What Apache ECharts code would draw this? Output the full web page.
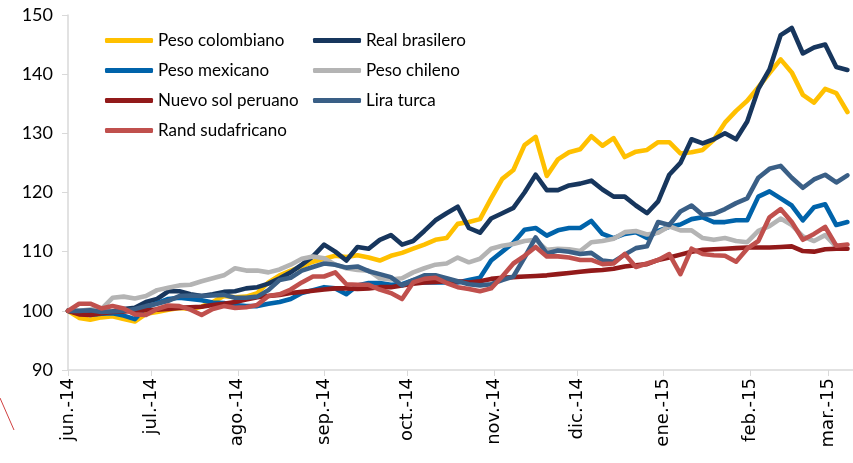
<html>

<head>
    <meta charset="utf-8" />
    <style>
        html, body { margin: 0; padding: 0; background: #fff; }
    </style>
</head>

<body>
    <div id="chart" style="width:853px;height:463px"></div>
    <script src="https://cdn.jsdelivr.net/npm/echarts@6/dist/echarts.min.js"></script>
    <script>
        // fechas (cada 4 dias desde 1 jun 2014)
        var fechas = [
            '2014-06-01', '2014-06-05', '2014-06-09', '2014-06-13', '2014-06-17', '2014-06-21', '2014-06-25', '2014-06-29',
            '2014-07-03', '2014-07-07', '2014-07-11', '2014-07-15', '2014-07-19', '2014-07-23', '2014-07-27', '2014-07-31',
            '2014-08-04', '2014-08-08', '2014-08-12', '2014-08-16', '2014-08-20', '2014-08-24', '2014-08-28',
            '2014-09-01', '2014-09-05', '2014-09-09', '2014-09-13', '2014-09-17', '2014-09-21', '2014-09-25', '2014-09-29',
            '2014-10-03', '2014-10-07', '2014-10-11', '2014-10-15', '2014-10-19', '2014-10-23', '2014-10-27', '2014-10-31',
            '2014-11-04', '2014-11-08', '2014-11-12', '2014-11-16', '2014-11-20', '2014-11-24', '2014-11-28',
            '2014-12-02', '2014-12-06', '2014-12-10', '2014-12-14', '2014-12-18', '2014-12-22', '2014-12-26', '2014-12-30',
            '2015-01-03', '2015-01-07', '2015-01-11', '2015-01-15', '2015-01-19', '2015-01-23', '2015-01-27', '2015-01-31',
            '2015-02-04', '2015-02-08', '2015-02-12', '2015-02-16', '2015-02-20', '2015-02-24', '2015-02-28',
            '2015-03-04', '2015-03-08'
        ];
        var mesesLabels = ['ene.', 'feb.', 'mar.', 'abr.', 'may.', 'jun.', 'jul.', 'ago.', 'sep.', 'oct.', 'nov.', 'dic.'];
        var yTicks = [90, 100, 110, 120, 130, 140, 150];

        var pesoColombiano = [
            100, 98.8, 98.5, 98.9, 99.1, 98.6, 98.2, 99.5,
            99.8, 100.2, 100.5, 100.3, 100.7, 101.5, 102.5, 102.3,
            102.4, 103, 104.8, 106, 106.8, 107.5, 108.3,
            108.8, 109.3, 109.1, 109.4, 109, 108.5, 109.3, 109.8,
            110.5, 111.2, 112, 112.3, 114.7, 115, 115.5, 119,
            122.3, 123.8, 128, 129.4, 122.8, 125.6, 126.8,
            127.3, 129.5, 127.9, 129.2, 126, 126.9, 127.2, 128.5,
            128.5, 126.6, 126.8, 127.2, 128.9, 131.8, 133.8, 135.5,
            137.8, 140.2, 142.5, 140.3, 136.5, 135.2, 137.5,
            136.8, 133.6
        ];
        var realBrasilero = [
            100, 99.7, 99.5, 99.8, 99.9, 100.3, 100.5, 101.5,
            102, 103.3, 103.3, 102.8, 102.5, 102.8, 103.2, 103.3,
            103.8, 104, 104.6, 105.5, 106.5, 107.8, 109.2,
            111.2, 110, 108.5, 110.8, 110.5, 112, 112.8, 111.2,
            111.8, 113.5, 115.3, 116.5, 117.6, 114, 113.2, 115.6,
            116.5, 117.4, 120, 123, 120.4, 120.4, 121.2,
            121.5, 122, 120.5, 119.3, 119.3, 117.8, 116.5, 118.5,
            123, 125, 129, 128.3, 129, 130, 129, 132,
            137.5, 140.8, 146.6, 147.8, 143.5, 144.5, 145,
            141.2, 140.7
        ];
        var pesoMexicano = [
            100, 99.6, 99.3, 99.5, 99.6, 99.2, 98.6, 100.6,
            101.3, 102, 102.2, 102, 101.8, 101.4, 101.3, 101,
            100.8, 100.8, 101.2, 101.5, 102, 103, 103.5,
            104, 103.8, 102.8, 104.3, 104.7, 104.7, 104.4, 104.5,
            105.2, 104.8, 104.8, 104.8, 104.8, 105.2, 105.6, 108.5,
            110, 111.5, 113.7, 114, 112.7, 113.6, 114,
            114, 115.2, 113, 112.3, 113, 113.3, 112.3, 113.5,
            114.2, 114.6, 115.5, 115.8, 115, 115, 115.3, 115.3,
            119.3, 120.2, 119, 117.8, 115.3, 117.5, 118,
            114.5, 115
        ];
        var pesoChileno = [
            100, 100, 100.2, 100.3, 102.2, 102.4, 102.1, 102.5,
            103.5, 103.9, 104.3, 104.4, 105, 105.5, 106, 107.2,
            106.8, 106.8, 106.5, 107, 107.8, 108.8, 109.2,
            108.9, 107.8, 107.2, 106.9, 106.8, 105.5, 105.3, 105.5,
            106.5, 107.2, 107.8, 108, 109, 108.2, 108.8, 110.5,
            111, 111.3, 111.8, 112, 110.3, 110.5, 110.4,
            110.1, 111.6, 111.8, 112.2, 113.3, 113.5, 112.9, 113.2,
            114.3, 113.6, 113.6, 112.3, 112, 112.3, 111.8, 111.6,
            113.5, 114.3, 115.6, 114.5, 112.6, 111.8, 112.8,
            110.8, 110.5
        ];
        var nuevoSol = [
            100, 99.4, 99.3, 99.6, 99.8, 99.9, 100, 100.1,
            100.2, 100.3, 100.5, 100.6, 100.7, 101, 101.2, 101.5,
            101.9, 102.3, 102.5, 102.7, 103, 103.2, 103.4,
            103.6, 103.8, 103.8, 103.7, 103.8, 104, 104, 104.3,
            104.6, 104.8, 104.9, 105, 105, 104.8, 105, 105.4,
            105.6, 105.7, 105.8, 105.9, 106, 106.2, 106.4,
            106.6, 106.8, 106.9, 107.1, 107.5, 107.7, 107.9, 108.6,
            109, 109.5, 110, 110.3, 110.4, 110.5, 110.6, 110.7,
            110.7, 110.7, 110.8, 110.9, 110.1, 110, 110.4,
            110.5, 110.5
        ];
        var liraTurca = [
            100, 100, 100.1, 99.8, 99.9, 100, 100.3, 100.8,
            101.2, 101.7, 102.5, 102.6, 102.5, 102.6, 102.7, 102.2,
            102.2, 102.4, 103.5, 105.2, 105.6, 106.8, 107.4,
            108, 107.8, 107.3, 107.5, 106.7, 106.2, 105.7, 104.3,
            105.2, 106, 106, 105.5, 105, 104.5, 104.3, 104.5,
            105.2, 105.8, 109, 112.4, 109.7, 110.2, 110,
            109.6, 109.8, 108.5, 108.3, 109.5, 110.6, 110.9, 115,
            114.5, 116.8, 117.8, 116.2, 116.4, 117.2, 118.2, 119,
            122.5, 124, 124.5, 122.5, 120.8, 122.2, 123,
            121.7, 122.9
        ];
        var randSudafricano = [
            100, 101.2, 101.2, 100.4, 100.8, 100.4, 99.4, 99.3,
            100.3, 100.9, 100.8, 100.2, 99.3, 100.3, 100.8, 100.5,
            100.6, 101, 102.5, 102.8, 103.6, 104.8, 105.8,
            105.8, 106.5, 104.5, 104.4, 104.4, 103.6, 103, 102,
            104.8, 105.4, 105.6, 104.7, 104, 103.7, 103.3, 103.8,
            105.8, 108, 109.3, 110.8, 109.2, 109.2, 109,
            108.6, 108.6, 107.9, 108, 109.6, 107.4, 108, 108.6,
            109.6, 106.2, 110.5, 109.6, 109.4, 109.3, 108.3, 110.5,
            111.8, 115.8, 117.2, 115, 112, 113, 114.2,
            111, 111.2
        ];

        function pares(valores) {
            return fechas.map(function (f, i) { return [f, valores[i]]; });
        }
        function serie(nombre, valores, color) {
            return {
                name: nombre,
                type: 'line',
                data: pares(valores),
                symbol: 'none',
                smooth: false,
                color: color,
                lineStyle: { width: 4.6, color: color, cap: 'round', join: 'round' }
            };
        }

        var fuente = 'Lato';
        var legendaBase = {
            orient: 'vertical',
            top: 27,
            padding: 5,
            itemWidth: 48,
            itemHeight: 5,
            itemGap: 13,
            icon: 'roundRect',
            textStyle: { fontFamily: fuente, fontSize: 17, color: '#000' }
        };

        var chart = echarts.init(document.getElementById('chart'));
        var option = {
            animation: false,
            grid: { left: 68, right: 0, top: 15, bottom: 93, containLabel: false },
            legend: [
                Object.assign({}, legendaBase, {
                    left: 100,
                    data: ['Peso colombiano', 'Peso mexicano', 'Nuevo sol peruano', 'Rand sudafricano']
                }),
                Object.assign({}, legendaBase, {
                    left: 308,
                    data: ['Real brasilero', 'Peso chileno', 'Lira turca']
                })
            ],
            xAxis: {
                type: 'time',
                min: '2014-06-01',
                max: '2015-03-10',
                splitNumber: 10,
                minInterval: 28 * 86400000,
                maxInterval: 31 * 86400000,
                axisLine: { lineStyle: { color: '#d9d9d9', width: 1.5 } },
                axisTick: { show: true, length: 6, lineStyle: { color: '#d9d9d9' } },
                splitLine: { show: false },
                axisLabel: {
                    rotate: 90,
                    margin: 8,
                    showMaxLabel: false,
                    fontFamily: 'DejaVu Sans',
                    fontSize: 18,
                    color: '#000',
                    formatter: function (v) {
                        var d = new Date(v);
                        return mesesLabels[d.getMonth()] + '-' + String(d.getFullYear()).slice(2);
                    }
                }
            },
            yAxis: {
                type: 'value',
                min: yTicks[0],
                max: yTicks[yTicks.length - 1],
                interval: 10,
                axisLine: { show: true, lineStyle: { color: '#d9d9d9', width: 1.5 } },
                axisTick: { show: true, length: 6, lineStyle: { color: '#d9d9d9' } },
                splitLine: { show: false },
                axisLabel: { fontFamily: fuente, fontSize: 18, color: '#000', margin: 15 }
            },
            graphic: [{
                type: 'line',
                shape: { x1: 0, y1: 398, x2: 14, y2: 430 },
                style: { stroke: '#d04040', lineWidth: 1 }
            }],
            series: [
                serie('Peso colombiano', pesoColombiano, '#FFC000'),
                serie('Real brasilero', realBrasilero, '#17365D'),
                serie('Peso mexicano', pesoMexicano, '#0063AA'),
                serie('Peso chileno', pesoChileno, '#B4B4B4'),
                serie('Nuevo sol peruano', nuevoSol, '#921A1A'),
                serie('Lira turca', liraTurca, '#3A5F86'),
                serie('Rand sudafricano', randSudafricano, '#C0504D')
            ]
        };
        chart.setOption(option);
    </script>
</body>

</html>
